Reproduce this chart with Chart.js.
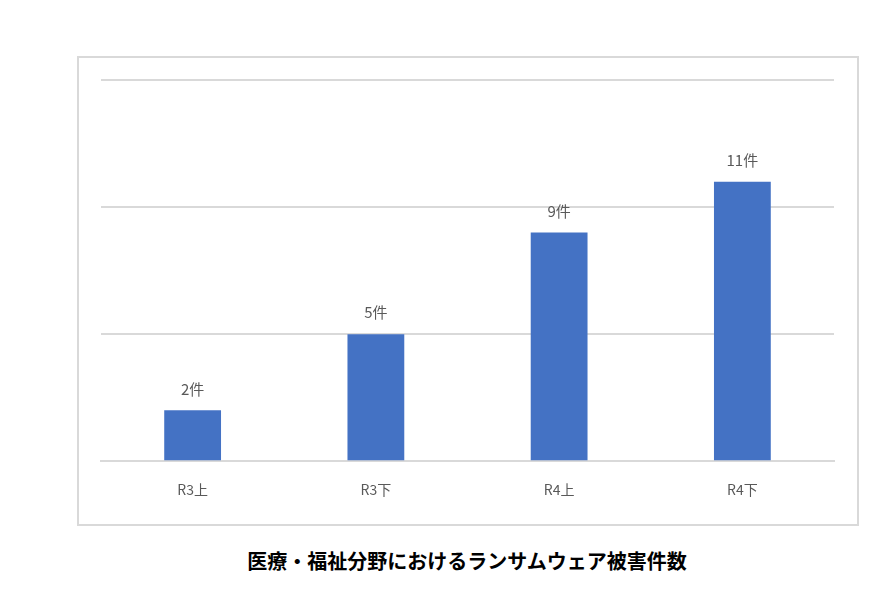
<!DOCTYPE html>
<html><head><meta charset="utf-8">
<script src="https://cdn.jsdelivr.net/npm/chart.js@4"></script>
<style>
body{margin:0;width:892px;height:595px;background:#fff;font-family:"Noto Sans CJK JP",sans-serif;}
#box{position:absolute;left:77px;top:56px;width:778px;height:466px;border:2px solid #d9d9d9;}
#title{position:absolute;left:0;width:934px;top:546px;text-align:center;font-weight:bold;font-size:20px;color:#000;}
</style></head>
<body>
<div id="box"><canvas id="c" width="778" height="466"></canvas></div>
<div id="title">医療・福祉分野におけるランサムウェア被害件数</div>
<script>
const categories = ['R3上', 'R3下', 'R4上', 'R4下'];
const counts = [2, 5, 9, 11];
const unit = '件';

const labelPlugin = {
  id: 'labels',
  afterDatasetsDraw(chart) {
    const ctx = chart.ctx;
    ctx.save();
    ctx.fillStyle = '#595959';
    ctx.font = '15px "Noto Sans CJK JP"';
    ctx.textAlign = 'center';
    ctx.textBaseline = 'bottom';
    chart.getDatasetMeta(0).data.forEach((bar, i) => {
      ctx.fillText(counts[i] + unit, bar.x, bar.y - 14);
    });
    ctx.restore();
  }
};

new Chart(document.getElementById('c'), {
  type: 'bar',
  data: { labels: categories, datasets: [{ data: counts, backgroundColor: '#4472c4', barPercentage: 0.31, categoryPercentage: 1 }] },
  options: {
    responsive: false, animation: false,
    layout: { padding: { left: 22, right: 23, top: 22, bottom: 14 } },
    plugins: { legend: { display: false }, tooltip: { enabled: false } },
    scales: {
      x: { grid: { display: false }, border: { color: '#d9d9d9', width: 2 },
           ticks: { color: '#595959', font: { size: 14, family: '"Noto Sans CJK JP"' }, padding: 12 } },
      y: { min: 0, max: 15, ticks: { stepSize: 5, display: false },
           grid: { color: '#d9d9d9', lineWidth: 2, drawTicks: false }, border: { display: false } }
    }
  },
  plugins: [labelPlugin]
});
</script>
</body></html>
